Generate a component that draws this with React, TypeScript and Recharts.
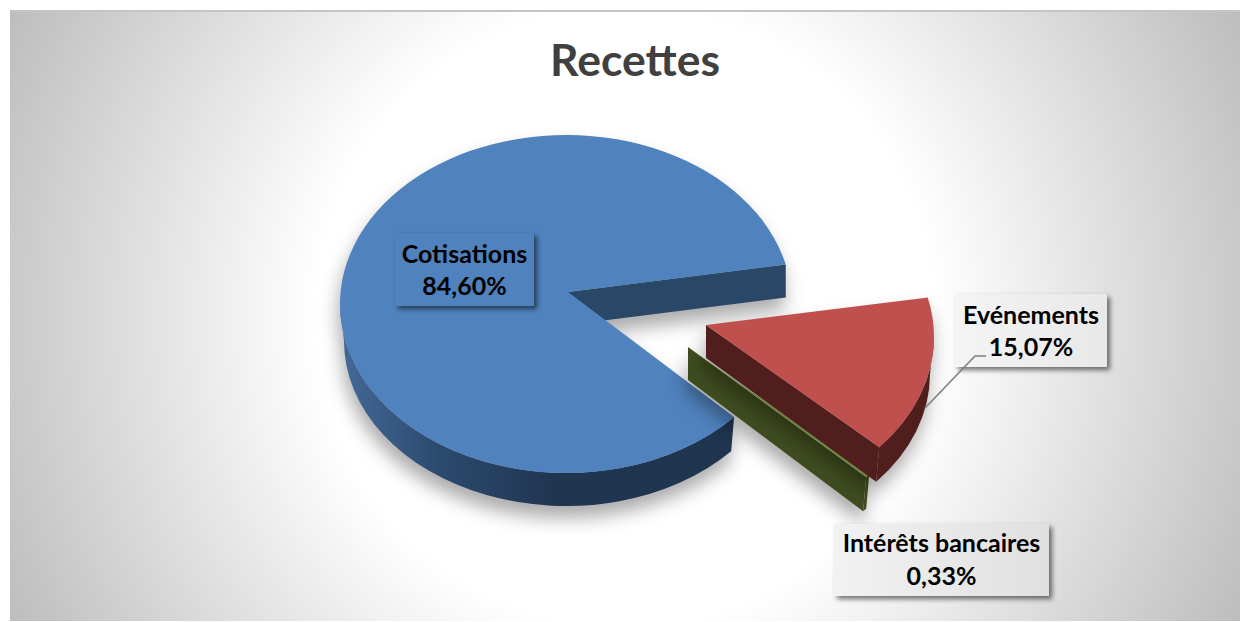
import React from "react";
import { PieChart, Pie, Cell } from "recharts";

const categories = ["Cotisations", "Intérêts bancaires", "Evénements"];
const shares = [84.6, 0.33, 15.07];
const chartTitle = "Recettes";

const topColors = ["#5082BE", "#9BBB59", "#C0504D"];
const wallColors = ["#1F3550", "#3F4C20", "#4F1E1D"];
const startWallColors = ["#2A4768", "#3F4C20", "#4F1E1D"];
const explodeX = [0, 132, 142];
const explodeY = [0, 60, 33];
const apexDX = [2, -10, -2];
const apexDY = [-12, -17, -12];
const flatStartWall = [true, false, false];
const boxX = [395, 834, 955];
const boxY = [233, 524, 294];
const boxW = [139, 215, 152];
const boxH = [73, 72, 73];
const boxFill = ["#5082BE", "url(#boxB)", "url(#boxA)"];
const baseline1 = [263, 552, 324];
const baseline2 = [295, 585, 356];

const SQUASH = 169 / 226;
const BOTTOM = { dy: 37, rx: 222 / 226, ry: 165 / 226, apex: 33 };
const FONT = "Lato, 'Open Sans', sans-serif";
const rad = (a: number) => (a * Math.PI) / 180;

function Slice(props: any) {
  const { cx, cy, outerRadius: r, startAngle, endAngle, name } = props;
  const i = categories.indexOf(name);
  const ox = cx + explodeX[i];
  const oy = cy + explodeY[i];
  const rx = r;
  const ry = r * SQUASH;
  const top = (a: number) => [ox + rx * Math.cos(rad(a)), oy - ry * Math.sin(rad(a))];
  const brx = r * BOTTOM.rx;
  const bry = r * BOTTOM.ry;
  const bot = (a: number) => [ox + brx * Math.cos(rad(a)), oy + BOTTOM.dy - bry * Math.sin(rad(a))];
  const apexTop = [ox + apexDX[i], oy + apexDY[i]];
  const apexBot = [apexTop[0], apexTop[1] + BOTTOM.apex];
  const p = (q: number[]) => `${q[0].toFixed(2)} ${q[1].toFixed(2)}`;
  const large = endAngle - startAngle > 180 ? 1 : 0;
  const s = top(startAngle);
  const e = top(endAngle);
  const sBot = flatStartWall[i] ? [s[0], s[1] + BOTTOM.apex] : bot(startAngle);
  const topPath = `M${p(apexTop)} L${p(s)} A${rx} ${ry} 0 ${large} 0 ${p(e)} Z`;
  const startWall = `M${p(apexTop)} L${p(s)} L${p(sBot)} L${p(apexBot)} Z`;
  const from = Math.max(startAngle, 180);
  const to = Math.min(endAngle, 360);
  const outerWall = `M${p(top(from))} A${rx} ${ry} 0 0 0 ${p(top(to))} L${p(bot(to))} A${brx} ${bry} 0 0 1 ${p(bot(from))} Z`;
  const gid = `wall${i}`;
  return (
    <g style={{ filter: "drop-shadow(-2px 12px 9px rgba(0,0,0,0.33))" }}>
      <defs>
        <linearGradient id={gid} x1="0" y1="0" x2="1" y2="0">
          {i === 0 ? (
            <>
              <stop offset="0" stopColor="#44699A" />
              <stop offset="0.25" stopColor="#2C4A6E" />
              <stop offset="0.55" stopColor="#1F3550" />
              <stop offset="1" stopColor="#1F3550" />
            </>
          ) : (
            <>
              <stop offset="0" stopColor={wallColors[i]} />
              <stop offset="1" stopColor={wallColors[i]} />
            </>
          )}
        </linearGradient>
      </defs>
      <path d={startWall} fill={startWallColors[i]} />
      <path d={outerWall} fill={`url(#${gid})`} />
      <path d={topPath} fill={topColors[i]} />
    </g>
  );
}

function SliceLabel(props: any) {
  const i = categories.indexOf(props.name);
  const pct = `${shares[i].toFixed(2).replace(".", ",")}%`;
  const x = boxX[i] + boxW[i] / 2;
  const common = { x, textAnchor: "middle" as const, fontFamily: FONT, fontWeight: 700, fontSize: 25, fill: "#000" };
  return (
    <g>
      <defs>
        <linearGradient id="boxA" x1="0" y1="0" x2="1" y2="0">
          <stop offset="0" stopColor="#F4F4F4" />
          <stop offset="1" stopColor="#E8E8E8" />
        </linearGradient>
        <linearGradient id="boxB" x1="0" y1="0" x2="1" y2="0">
          <stop offset="0" stopColor="#F2F2F2" />
          <stop offset="1" stopColor="#E0E0E0" />
        </linearGradient>
      </defs>
      <rect
        x={boxX[i]}
        y={boxY[i]}
        width={boxW[i]}
        height={boxH[i]}
        fill={boxFill[i]}
        style={{ filter: "drop-shadow(3px 3px 2.5px rgba(0,0,0,0.55))" }}
      />
      {i === 2 && <path d="M925 408 L975 356 L986 356" fill="none" stroke="#7F7F7F" strokeWidth={1.6} />}
      <text {...common} y={baseline1[i]}>{categories[i]}</text>
      <text {...common} y={baseline2[i]}>{pct}</text>
    </g>
  );
}

const rows = categories.map((name, i) => ({ name, value: shares[i] }));

export default function App() {
  return (
    <div style={{ position: "absolute", left: 0, top: 0, width: 1248, height: 622, background: "#fff", overflow: "hidden" }}>
      <div
        style={{
          position: "absolute",
          left: 10,
          top: 10,
          width: 1230,
          height: 611,
          borderTop: "2px solid #c4c4c4",
          boxSizing: "border-box",
          background: "radial-gradient(circle farthest-corner at 50% 50%, #ffffff 0%, #ffffff 45%, #bdbdbd 100%)",
        }}
      />
      <div style={{ position: "absolute", left: 0, top: 0 }}>
        <PieChart width={1248} height={622} margin={{ top: 0, right: 0, bottom: 0, left: 0 }}>
          <text x={635} y={76} textAnchor="middle" fontFamily={FONT} fontWeight={700} fontSize={44.5} fill="#404040">
            {chartTitle}
          </text>
          <Pie
            data={rows}
            dataKey="value"
            nameKey="name"
            cx={566}
            cy={304}
            innerRadius={0}
            outerRadius={226}
            startAngle={13.5}
            endAngle={373.5}
            stroke="none"
            shape={Slice}
            label={SliceLabel}
            labelLine={false}
            isAnimationActive={false}
          >
            {rows.map((r, i) => (
              <Cell key={r.name} fill={topColors[i]} />
            ))}
          </Pie>
        </PieChart>
      </div>
    </div>
  );
}
